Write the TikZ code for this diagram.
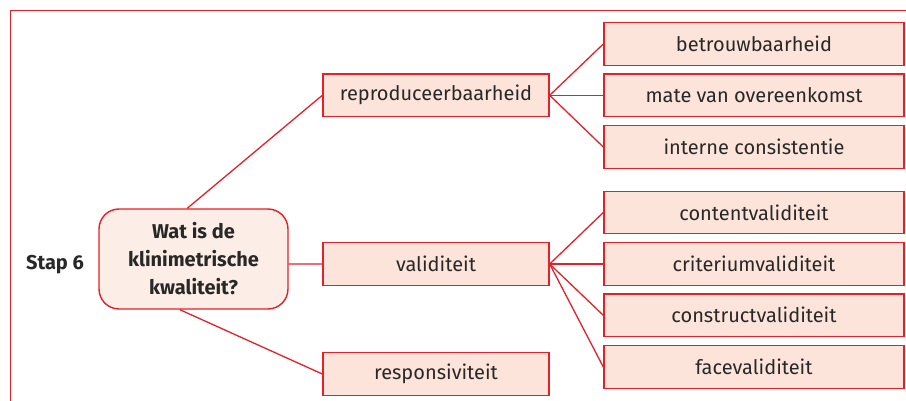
\documentclass[tikz,border=0pt]{standalone}
\usepackage{fontspec}
\setmainfont{Fira Sans}
\definecolor{redline}{RGB}{228,32,40}
\definecolor{boxfill}{RGB}{252,228,218}
\definecolor{qfill}{RGB}{252,238,231}
\definecolor{txt}{RGB}{40,40,40}
\begin{document}
\begin{tikzpicture}[x=1pt,y=-1pt,
  every node/.style={text=txt},
  item/.style={draw=redline, fill=boxfill, line width=1.4pt, minimum height=42.5pt, inner sep=0pt, font=\fontsize{20}{24}\selectfont},
  mid/.style={item, minimum width=226pt},
  leaf/.style={item, minimum width=300pt},
  question/.style={draw=redline, fill=qfill, line width=1.4pt, rounded corners=20pt, minimum width=189pt, minimum height=100pt, inner sep=0pt, align=center, font=\fontsize{20}{28}\selectfont\bfseries},
  link/.style={draw=redline, line width=1.3pt}]
\useasboundingbox (0,0) rectangle (906,401);
\draw[redline, line width=1.5pt] (10.5,401) -- (10.5,10.5) -- (906,10.5);
\node[question] (q) at (193.5,259) {Wat is de\\klinimetrische\\kwaliteit?};
\node[font=\fontsize{20}{24}\selectfont\bfseries] (stap) at (55,265) {Stap 6};
\node[mid] (rep) at (436,95.3) {reproduceerbaarheid};
\node[mid] (val) at (436,264) {validiteit};
\node[mid] (resp) at (436,374) {responsiviteit};
\node[leaf] (b1) at (754,44) {betrouwbaarheid};
\node[leaf] (b2) at (754,95.3) {mate van overeenkomst};
\node[leaf] (b3) at (754,147) {interne consistentie};
\node[leaf] (v1) at (754,212.5) {contentvaliditeit};
\node[leaf] (v2) at (754,264) {criteriumvaliditeit};
\node[leaf] (v3) at (754,315.3) {constructvaliditeit};
\node[leaf] (v4) at (754,367) {facevaliditeit};
\draw[link] (q.97) -- (rep.west);
\draw[link] (q.357) -- (val.west);
\draw[link] (q.255) -- (resp.west);
\foreach \t in {b1,b2,b3} \draw[link] (rep.east) -- (\t.west);
\foreach \t in {v1,v2,v3,v4} \draw[link] (val.east) -- (\t.west);
\end{tikzpicture}
\end{document}
